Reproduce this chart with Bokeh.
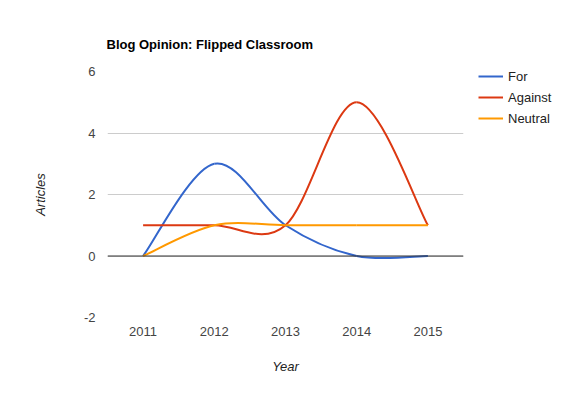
from bokeh.plotting import figure
from bokeh.models import Span, Legend, LegendItem, FixedTicker
from bokeh.embed import file_html
from bokeh.resources import INLINE

years = [2011, 2012, 2013, 2014, 2015]
series_names = ["For", "Against", "Neutral"]
for_vals = [0, 3, 1, 0, 0]
against_vals = [1, 1, 1, 5, 1]
neutral_vals = [0, 1, 1, 1, 1]
colors = ["#3366CC", "#DC3912", "#FF9900"]
y_ticks = [-2, 0, 2, 4, 6]
y_tick_labels = ["-2", "0", "2", "4", "6"]

FONT = "Liberation Sans"

p = figure(frame_width=356, frame_height=246, output_backend="svg", toolbar_location=None,
           x_range=(2010.5, 2015.5), y_range=(-2, 6),
           min_border_left=107, min_border_right=99, min_border_top=71, min_border_bottom=70,
           title="Blog Opinion: Flipped Classroom")
p.outline_line_color = None
p.background_fill_color = "white"
p.border_fill_color = "white"

p.title.text_font = FONT
p.title.text_font_size = "13px"
p.title.text_font_style = "bold"
p.title.text_color = "#000000"
p.title.align = "left"
p.title.offset = -1
p.title.standoff = 40

p.xaxis.ticker = FixedTicker(ticks=years)
p.yaxis.ticker = FixedTicker(ticks=y_ticks)
p.yaxis.major_label_overrides = {t: s for t, s in zip(y_ticks, y_tick_labels)}
for ax in (p.xaxis, p.yaxis):
    ax.axis_line_color = None
    ax.major_tick_line_color = None
    ax.minor_tick_line_color = None
    ax.major_label_text_font = FONT
    ax.major_label_text_font_size = "13px"
    ax.major_label_text_color = "#444444"
    ax.axis_label_text_font = FONT
    ax.axis_label_text_font_size = "13px"
    ax.axis_label_text_font_style = "italic"
    ax.axis_label_text_color = "#222222"
p.xaxis.axis_label = "Year"
p.yaxis.axis_label = "Articles"
p.xaxis.major_label_standoff = 3
p.yaxis.major_label_standoff = 6
p.xaxis.axis_label_standoff = 20
p.yaxis.axis_label_standoff = 33

p.xgrid.grid_line_color = None
p.ygrid.grid_line_color = "#cccccc"
p.ygrid.grid_line_width = 1

p.add_layout(Span(location=0, dimension="width", line_color="#333333", line_width=1))


def bezier_segments(xs, ys):
    n = len(xs)
    seg = dict(x0=[], y0=[], x1=[], y1=[], cx0=[], cy0=[], cx1=[], cy1=[])
    for i in range(n - 1):
        xp, yp = (xs[i - 1], ys[i - 1]) if i > 0 else (xs[i], ys[i])
        xn2, yn2 = (xs[i + 2], ys[i + 2]) if i + 2 < n else (xs[i + 1], ys[i + 1])
        seg["x0"].append(xs[i]); seg["y0"].append(ys[i])
        seg["x1"].append(xs[i + 1]); seg["y1"].append(ys[i + 1])
        seg["cx0"].append(xs[i] + (xs[i + 1] - xp) / 6)
        seg["cy0"].append(ys[i] + (ys[i + 1] - yp) / 6)
        seg["cx1"].append(xs[i + 1] - (xn2 - xs[i]) / 6)
        seg["cy1"].append(ys[i + 1] - (yn2 - ys[i]) / 6)
    return seg


items = []
for name, vals, col in zip(series_names, [for_vals, against_vals, neutral_vals], colors):
    seg = bezier_segments(years, vals)
    r = p.bezier(line_color=col, line_width=2, **seg)
    items.append(LegendItem(label=name, renderers=[r]))

legend = Legend(items=items, location=(15, 189), margin=0, padding=0, spacing=1,
                glyph_width=25, glyph_height=20, label_height=20, label_standoff=5,
                label_text_font=FONT, label_text_font_size="13px", label_text_color="#222222",
                border_line_color=None, background_fill_alpha=0)
p.add_layout(legend, "right")

open("out.html", "w").write(file_html(p, INLINE))
